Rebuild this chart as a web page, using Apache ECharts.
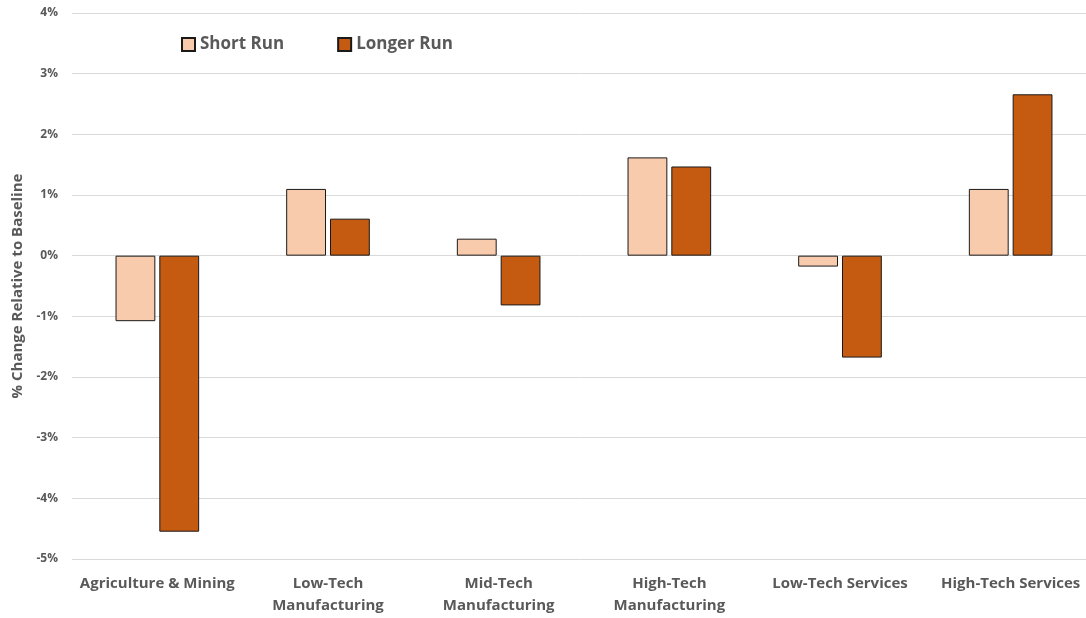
<!DOCTYPE html>
<html><head><meta charset="utf-8">
<script src="https://cdn.jsdelivr.net/npm/echarts@6/dist/echarts.min.js"></script>
<style>html,body{margin:0;padding:0;background:#fff}#c{width:1086px;height:618px}</style>
</head><body><div id="c"></div>
<script>
const categories = ['Agriculture & Mining','Low-Tech\nManufacturing','Mid-Tech\nManufacturing','High-Tech\nManufacturing','Low-Tech Services','High-Tech Services'];
const shortRun = [-1.08, 1.10, 0.28, 1.62, -0.18, 1.10];
const longerRun = [-4.55, 0.61, -0.82, 1.47, -1.68, 2.66];
const seriesNames = ['Short Run','Longer Run'];
const chart = echarts.init(document.getElementById('c'));
const font = "'Open Sans', sans-serif";
chart.setOption({
  animation:false,
  textStyle:{fontFamily:font},
  legend:{
    left:176, top:31, itemWidth:13, itemHeight:13, itemGap:53,
    icon:'rect',
    textStyle:{fontSize:17, fontWeight:'bold', color:'#595959', fontFamily:font},
    data:seriesNames
  },
  grid:{left:72, right:-10, top:13, bottom:59, containLabel:false, outerBoundsMode:'none'},
  xAxis:{
    type:'category', data:categories,
    axisLine:{show:false}, axisTick:{show:false},
    axisLabel:{fontSize:15, fontWeight:'bold', color:'#595959', margin:14, lineHeight:22, interval:0, fontFamily:font}
  },
  yAxis:{
    type:'value', min:-5, max:4, interval:1,
    name:'% Change Relative to Baseline', nameLocation:'middle', nameGap:36, nameRotate:90,
    nameTextStyle:{fontSize:15, fontWeight:'bold', color:'#595959', fontFamily:font},
    axisLabel:{formatter:'{value}%', fontSize:12, fontWeight:'bold', color:'#595959', margin:14, fontFamily:font},
    splitLine:{lineStyle:{color:'#d9d9d9', width:1}},
    axisLine:{show:false}, axisTick:{show:false}
  },
  series:[
    {name:seriesNames[0], type:'bar', data:shortRun, barGap:'10%', barCategoryGap:'51%',
     itemStyle:{color:'#F8CBAD', borderColor:'#1a1a1a', borderWidth:1}},
    {name:seriesNames[1], type:'bar', data:longerRun,
     itemStyle:{color:'#C55A11', borderColor:'#1a1a1a', borderWidth:1}}
  ]
});
</script></body></html>
